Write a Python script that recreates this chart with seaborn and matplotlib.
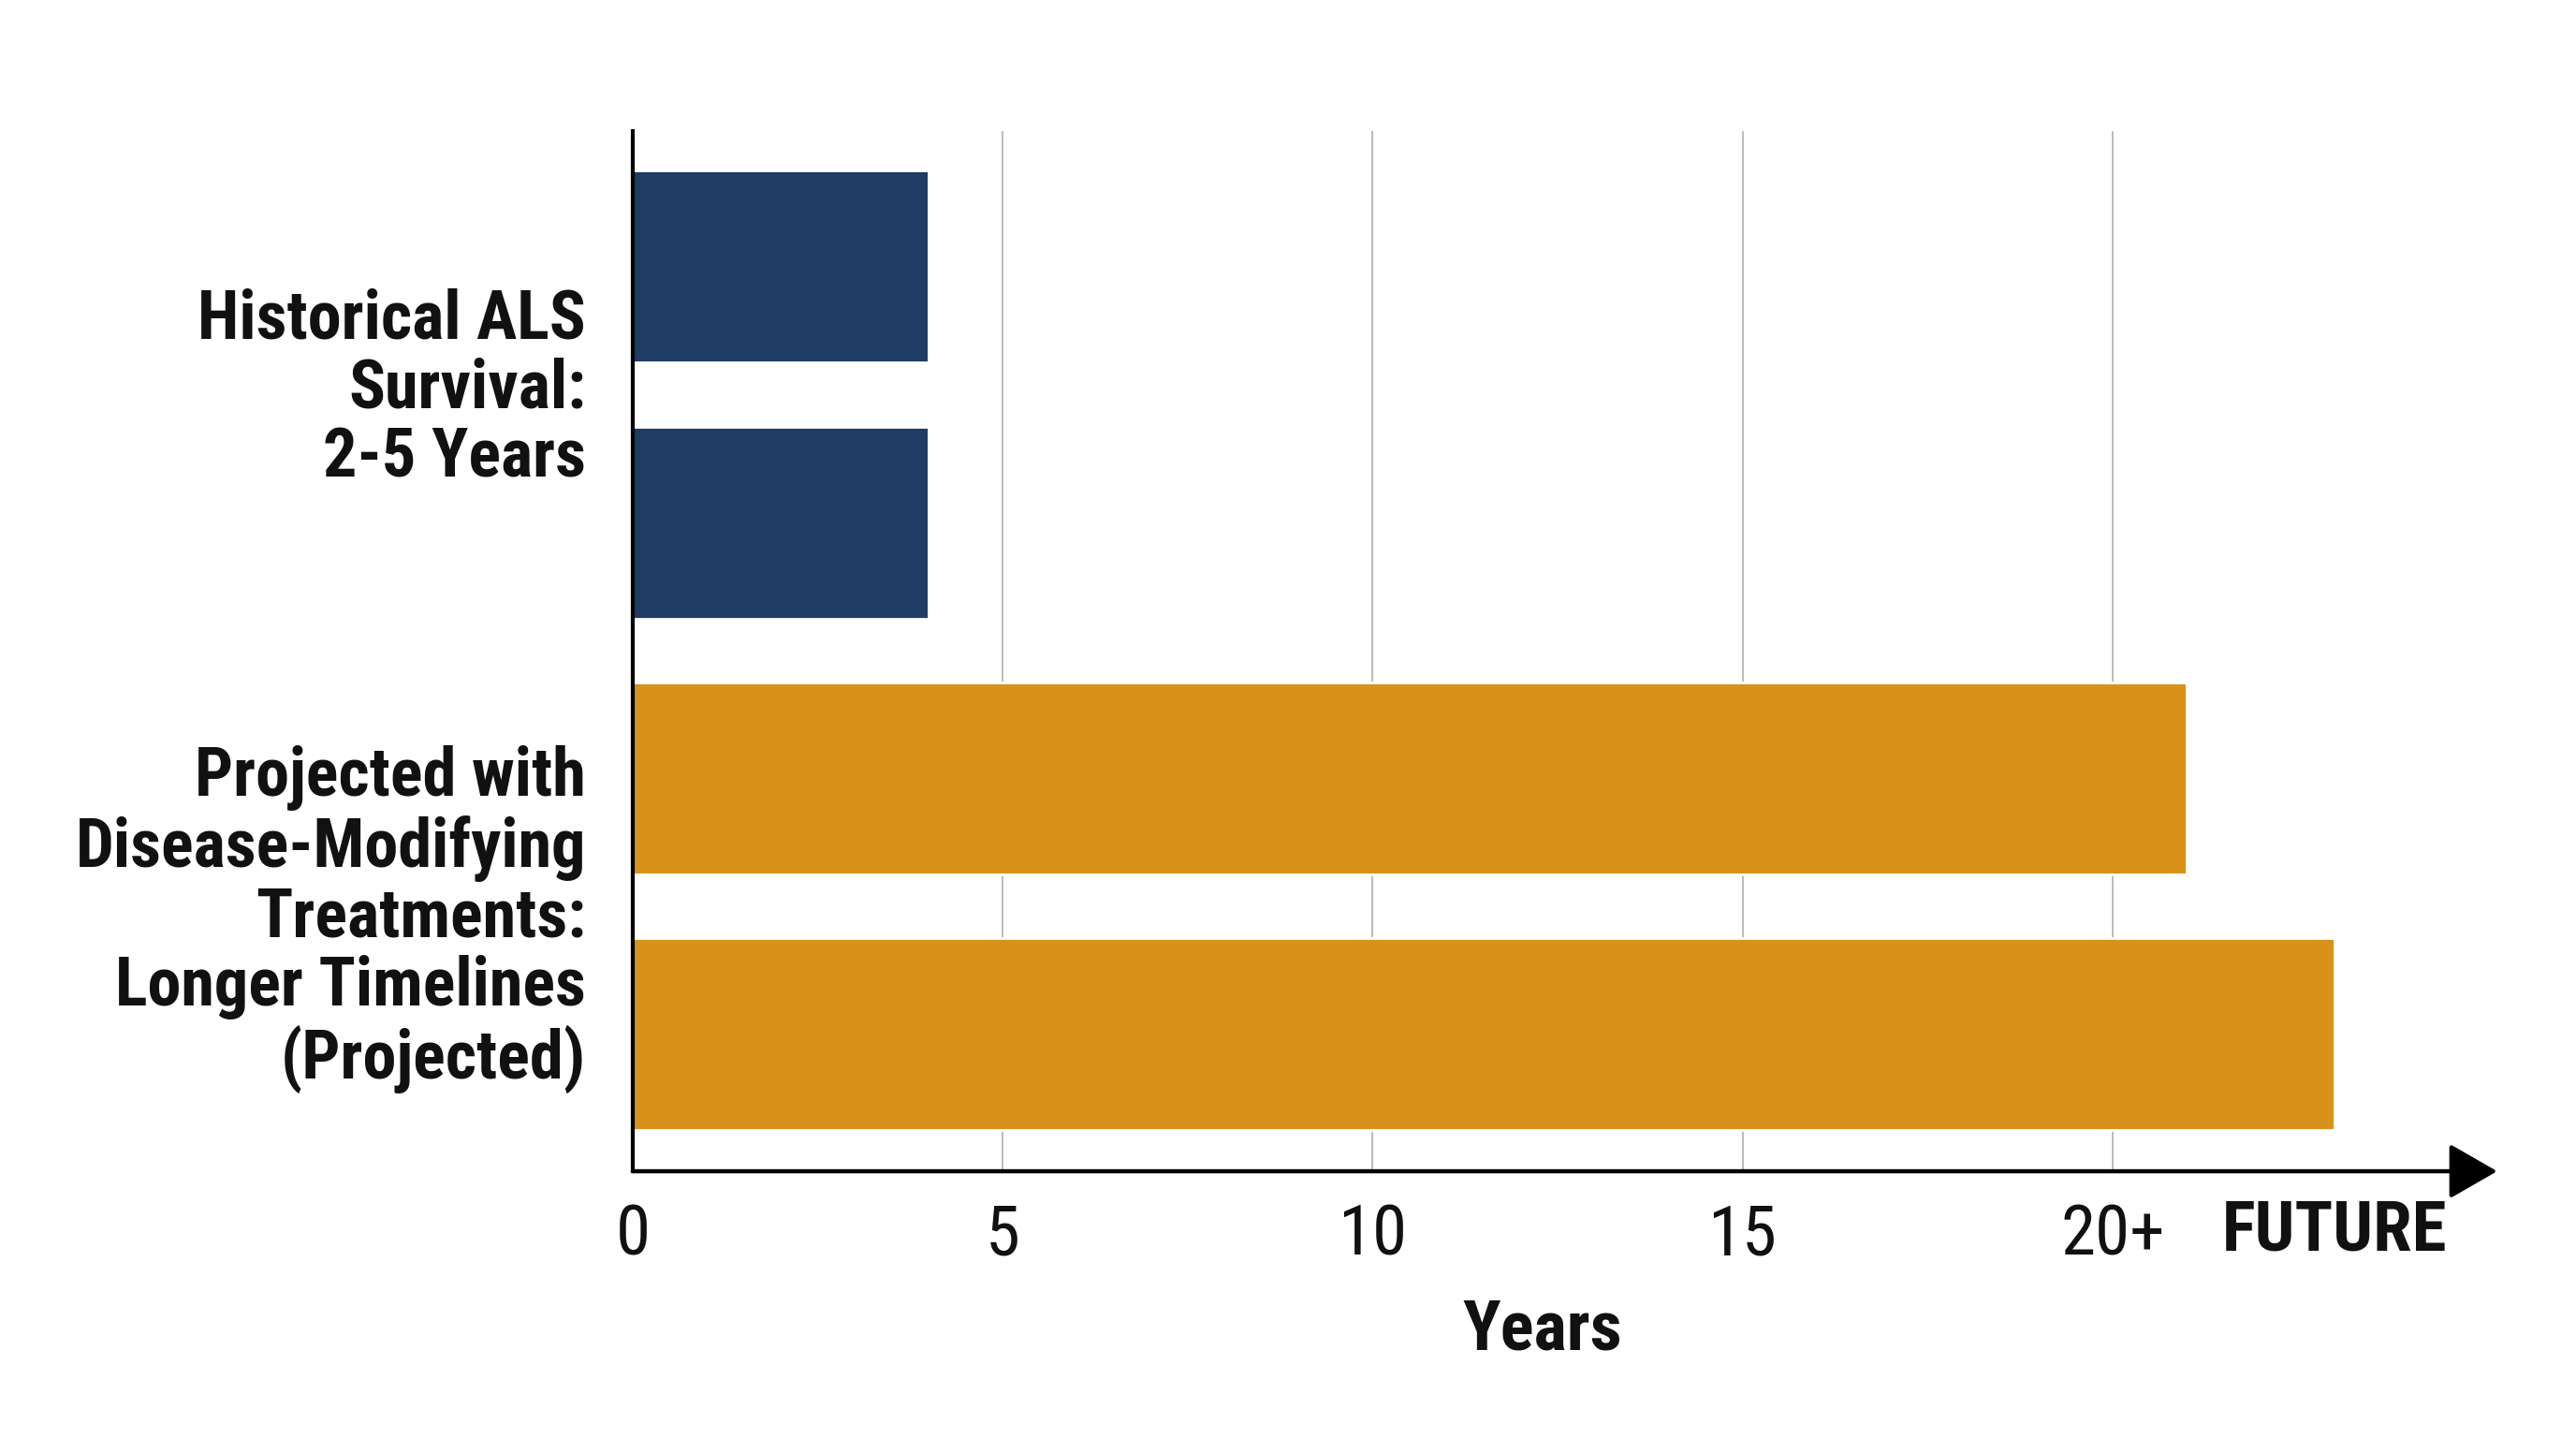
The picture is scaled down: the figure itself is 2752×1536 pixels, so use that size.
import matplotlib
matplotlib.use("Agg")
import matplotlib.pyplot as plt
import seaborn as sns
import pandas as pd
from matplotlib import font_manager

# 数据
bar_ids = ["hist_a", "hist_b", "proj_a", "proj_b"]
years = [4, 4, 21, 23]
groups = ["Historical", "Historical", "Projected", "Projected"]
group_labels = [
    "Historical ALS\nSurvival:\n2-5 Years",
    "Projected with\nDisease-Modifying\nTreatments:\nLonger Timelines\n(Projected)",
]
tick_values = [0, 5, 10, 15, 20]
tick_labels = ["0", "5", "10", "15", "20+"]
colors = {"Historical": "#1F3D63", "Projected": "#D8921C"}

df = pd.DataFrame({"bar": bar_ids, "years": years, "group": groups})

sns.set_theme(style="white")
names = {f.name for f in font_manager.fontManager.ttflist}
main_font = "Roboto"
for cand in ["Roboto Condensed", "Liberation Sans Narrow", "Roboto"]:
    if cand in names:
        main_font = cand
        break
plt.rcParams["font.family"] = [main_font, "DejaVu Sans"]

fig = plt.figure(figsize=(13.76, 7.68), dpi=200)
ax = fig.add_axes([0.2456, 0.1855, 0.7238, 0.7234])

sns.barplot(
    data=df, x="years", y="bar", hue="group", palette=colors,
    orient="h", dodge=False, width=0.75, legend=False, ax=ax,
    saturation=1,
)

ax.set_xlim(0, 25.2)
ax.set_ylim(3.535, -0.53)

# 网格线
ax.set_axisbelow(True)
ax.xaxis.grid(True, color="#BBBBBB", lw=0.7)
ax.set_xticks(tick_values)
ax.set_xticklabels(tick_labels, fontsize=27, color="#111111")
ax.tick_params(axis="x", length=0, pad=12)
ax.set_yticks([])
ax.set_ylabel("")
ax.set_xlabel("")

for s in ["top", "right", "bottom"]:
    ax.spines[s].set_visible(False)
ax.spines["left"].set_color("black")
ax.spines["left"].set_linewidth(1.5)

# 箭头轴
ax.annotate(
    "", xy=(1.0, 0), xytext=(0, 0), xycoords="axes fraction",
    arrowprops=dict(arrowstyle="-|>,head_length=0.4,head_width=0.23",
                    lw=1.6, color="black", mutation_scale=40,
                    shrinkA=0, shrinkB=0),
    annotation_clip=False,
)

# 分组标签
for label, yc in zip(group_labels, [0.48, 2.55]):
    ax.text(-0.63, yc, label, ha="right", va="center", fontsize=26,
            fontweight="bold", linespacing=1.09, color="#111111")

ax.text(23.0, -0.058, "FUTURE", transform=ax.get_xaxis_transform(),
        ha="center", va="center", fontsize=27, fontweight="bold",
        color="#111111")

ax.text(12.3, -0.153, "Years", transform=ax.get_xaxis_transform(),
        ha="center", va="center", fontsize=27, fontweight="bold",
        color="#111111")

fig.savefig("out.png", dpi=200, facecolor="white")
plt.close(fig)
